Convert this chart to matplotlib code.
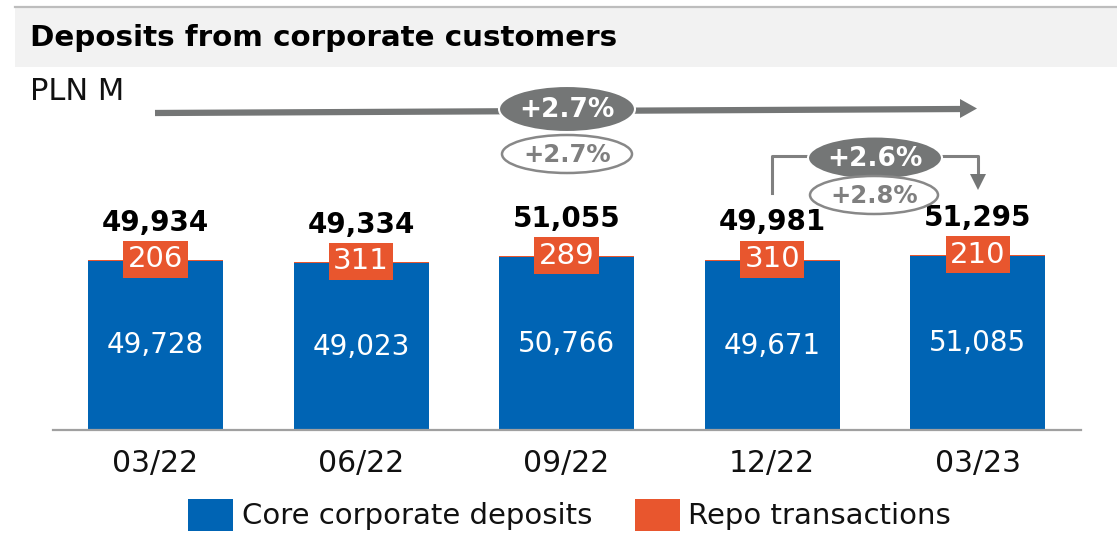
import matplotlib
matplotlib.use("Agg")
import matplotlib.pyplot as plt
from matplotlib.patches import Rectangle, Ellipse, Polygon

plt.rcParams['font.family'] = ['DejaVu Sans']

categories = ["03/22", "06/22", "09/22", "12/22", "03/23"]
core = [49728, 49023, 50766, 49671, 51085]
repo = [206, 311, 289, 310, 210]
totals = [49934, 49334, 51055, 49981, 51295]
title = "Deposits from corporate customers"
unit = "PLN M"
growth_total_main = "+2.7%"
growth_total_core = "+2.7%"
growth_q_main = "+2.6%"
growth_q_core = "+2.8%"
legend_labels = ["Core corporate deposits", "Repo transactions"]

BLUE = "#0064B4"
ORANGE = "#E8562E"
GRAY = "#747676"

W, H = 1117, 533
fig = plt.figure(figsize=(W / 100, H / 100), dpi=100)

# main bar axes: pixel box x 52.7..1080.5, y 100..430 (from top)
ax = fig.add_axes([52.7 / W, (H - 430) / H, (1080.5 - 52.7) / W, 330 / H])
x = list(range(len(categories)))
ax.bar(x, core, width=0.657, color=BLUE, zorder=2)
ax.bar(x, repo, bottom=core, width=0.657, color=ORANGE, zorder=2)
ax.set_xlim(-0.5, 4.5)
ax.set_ylim(0, 97000)
for s in ["top", "left", "right"]:
    ax.spines[s].set_visible(False)
ax.spines["bottom"].set_color("#A0A0A0")
ax.spines["bottom"].set_linewidth(1.6)
ax.set_yticks([])
ax.set_xticks(x)
ax.set_xticklabels(categories, fontsize=21.5, color="#111111")
ax.tick_params(axis="x", length=0, pad=13.5)
ax.patch.set_alpha(0)

for i in x:
    ax.text(i, core[i] / 2, f"{core[i]:,}", ha="center", va="center",
            color="white", fontsize=20, zorder=3)
    ax.annotate(f"{repo[i]:,}", (i, core[i] + repo[i]), xytext=(0, 0.5),
                textcoords="offset points", ha="center", va="center",
                color="white", fontsize=21, zorder=4,
                bbox=dict(boxstyle="square,pad=0.15", fc=ORANGE, ec="none"))
    ax.annotate(f"{totals[i]:,}", (i, core[i] + repo[i]), xytext=(0, 27),
                textcoords="offset points", ha="center", va="center",
                color="black", fontsize=20, fontweight="bold", zorder=4)

# overlay in pixel coordinates
ov = fig.add_axes([0, 0, 1, 1])
ov.set_xlim(0, W)
ov.set_ylim(H, 0)
ov.axis("off")
ov.patch.set_alpha(0)

# title band
ov.add_patch(Rectangle((15, 7), W - 15, 60, fc="#F2F2F2", ec="none", zorder=1))
ov.plot([15, W], [6.5, 6.5], color="#BDBDBD", lw=1.6, zorder=2)
ov.text(30, 38, title, fontsize=21.2, fontweight="bold", va="center", ha="left",
        color="black", zorder=3)
ov.text(30, 91, unit, fontsize=22, va="center", ha="left", color="#111111")

# long arrow
ov.plot([155, 962], [113, 109], color=GRAY, lw=4.5, solid_capstyle="butt", zorder=2)
ov.add_patch(Polygon([[960, 99], [977, 108.5], [960, 118]], closed=True,
                     fc=GRAY, ec="none", zorder=2))
ov.add_patch(Ellipse((567, 109), 136, 46, fc=GRAY, ec="white", lw=1.5, zorder=3))
ov.text(567, 110, growth_total_main, color="white", fontsize=19, fontweight="bold",
        ha="center", va="center", zorder=4)
ov.add_patch(Ellipse((567, 154), 130, 38, fc="white", ec="#888888", lw=1.8, zorder=3))
ov.text(567, 155, growth_total_core, color="#7F7F7F", fontsize=17.5, fontweight="bold",
        ha="center", va="center", zorder=4)

# quarter bracket
BR = "#808080"
ov.plot([772, 772, 812], [193, 156, 156], color=BR, lw=2.2, zorder=2)
ov.plot([938, 978, 978], [156, 156, 175], color=BR, lw=2.2, zorder=2)
ov.add_patch(Polygon([[970, 174], [986, 174], [978, 190]], closed=True,
                     fc=GRAY, ec="none", zorder=2))
ov.add_patch(Ellipse((875, 158), 134, 43, fc=GRAY, ec="white", lw=1.5, zorder=3))
ov.text(875, 159, growth_q_main, color="white", fontsize=19, fontweight="bold",
        ha="center", va="center", zorder=4)
ov.add_patch(Ellipse((874, 195), 128, 38, fc="white", ec="#888888", lw=1.8, zorder=3))
ov.text(874, 196, growth_q_core, color="#7F7F7F", fontsize=17.5, fontweight="bold",
        ha="center", va="center", zorder=4)

# legend
ov.add_patch(Rectangle((188, 499), 45, 32, fc=BLUE, ec="none"))
ov.text(242, 516, legend_labels[0], fontsize=21, va="center", ha="left", color="#111111")
ov.add_patch(Rectangle((635, 499), 45, 32, fc=ORANGE, ec="none"))
ov.text(688, 516, legend_labels[1], fontsize=21, va="center", ha="left", color="#111111")

fig.savefig("out.png", dpi=100)
